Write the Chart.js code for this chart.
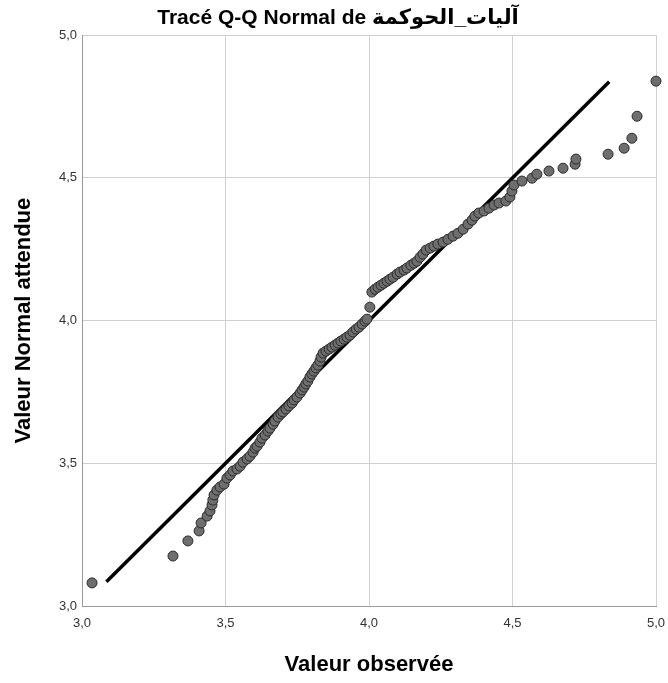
<!DOCTYPE html>
<html>
<head>
<meta charset="utf-8">
<script src="https://cdn.jsdelivr.net/npm/chart.js@4/dist/chart.umd.min.js"></script>
<style>
  body { margin: 0; background: #fff; }
</style>
</head>
<body>
<canvas id="grafica" width="668" height="683"></canvas>
<script>
const ctx = document.getElementById("grafica");

// valeurs observées (triées) et valeurs normales attendues
const observees = [3.035,3.317,3.369,3.408,3.415,3.436,3.446,3.453,3.456,3.460,
    3.470,3.481,3.495,3.505,3.516,3.526,3.540,3.551,3.561,3.575,
    3.585,3.596,3.603,3.610,3.620,3.627,3.638,3.648,3.655,3.666,
    3.672,3.683,3.693,3.700,3.711,3.721,3.732,3.739,3.749,3.760,
    3.767,3.774,3.780,3.787,3.794,3.801,3.808,3.815,3.822,3.829,
    3.833,3.840,3.850,3.861,3.871,3.882,3.892,3.902,3.913,3.923,
    3.934,3.944,3.955,3.965,3.976,3.986,3.993,4.003,4.010,4.021,
    4.031,4.042,4.052,4.063,4.073,4.084,4.098,4.108,4.122,4.132,
    4.146,4.157,4.167,4.178,4.188,4.199,4.213,4.226,4.240,4.258,
    4.275,4.293,4.310,4.328,4.345,4.359,4.369,4.383,4.401,4.418,
    4.436,4.453,4.477,4.491,4.498,4.505,4.533,4.568,4.585,4.627,
    4.676,4.718,4.721,4.833,4.889,4.916,4.934,5.000];

const attendues = [3.081,3.175,3.228,3.263,3.291,3.315,3.333,3.354,3.371,3.389,
    3.406,3.417,3.427,3.448,3.459,3.473,3.480,3.490,3.504,3.515,
    3.525,3.539,3.553,3.560,3.574,3.588,3.599,3.613,3.623,3.637,
    3.648,3.662,3.673,3.680,3.690,3.701,3.711,3.722,3.732,3.746,
    3.757,3.767,3.778,3.788,3.802,3.813,3.823,3.834,3.844,3.858,
    3.872,3.886,3.893,3.900,3.907,3.914,3.921,3.928,3.935,3.942,
    3.949,3.960,3.970,3.977,3.988,3.998,4.005,4.047,4.100,4.110,
    4.117,4.124,4.131,4.138,4.145,4.152,4.163,4.170,4.177,4.184,
    4.194,4.201,4.208,4.222,4.233,4.247,4.254,4.261,4.268,4.275,
    4.285,4.296,4.306,4.320,4.338,4.352,4.366,4.377,4.384,4.394,
    4.405,4.412,4.419,4.433,4.454,4.475,4.489,4.499,4.513,4.524,
    4.534,4.548,4.566,4.583,4.604,4.639,4.716,4.839];

// droite de référence y = x
const droiteDebut = 3.085;
const droiteFin = 4.837;

const graduations = [3.0, 3.5, 4.0, 4.5, 5.0];

const police = "'Liberation Sans', Arial, 'DejaVu Sans', sans-serif";
const formatVirgule = v => Number(v).toFixed(1).replace(".", ",");

const points = observees.map((x, i) => ({ x: x, y: attendues[i] }));

new Chart(ctx, {
    type: "scatter",
    data: {
        datasets: [
            {
                label: "Observé",
                data: points,
                backgroundColor: "#6e6e6e",
                borderColor: "#2b2b2b",
                borderWidth: 1,
                pointRadius: 5,
                clip: false
            },
            {
                type: "line",
                label: "Référence",
                data: [{ x: droiteDebut, y: droiteDebut }, { x: droiteFin, y: droiteFin }],
                borderColor: "#000",
                borderWidth: 3.5,
                pointRadius: 0,
                fill: false
            }
        ]
    },
    options: {
        responsive: false,
        animation: false,
        layout: { padding: { left: 20, right: 12, top: 0, bottom: 0 } },
        plugins: {
            legend: { display: false },
            tooltip: { enabled: false },
            title: {
                display: true,
                text: "Tracé Q-Q Normal de آليات_الحوكمة",
                color: "#000",
                font: { family: police, size: 21, weight: "bold" },
                padding: { top: 6, bottom: 4 }
            }
        },
        scales: {
            x: {
                type: "linear",
                min: 3,
                max: 5,
                afterBuildTicks: axis => { axis.ticks = graduations.map(v => ({ value: v })); },
                afterFit: axis => {
                    axis.height = 77;
                    // pas de marge supplémentaire pour les étiquettes des extrémités
                    axis.paddingLeft = 0;
                    axis.paddingRight = 0;
                },
                ticks: {
                    color: "#333",
                    padding: 10,
                    font: { family: police, size: 13 },
                    callback: formatVirgule
                },
                grid: { color: "#cfcfcf", drawTicks: false },
                border: { color: "#9a9a9a" },
                title: {
                    display: true,
                    text: "Valeur observée",
                    color: "#000",
                    font: { family: police, size: 22, weight: "bold" },
                    padding: { top: 0, bottom: 5 }
                }
            },
            y: {
                type: "linear",
                min: 3,
                max: 5,
                afterBuildTicks: axis => { axis.ticks = graduations.map(v => ({ value: v })); },
                afterFit: axis => {
                    axis.width = 62;
                    axis.paddingTop = 0;
                    axis.paddingBottom = 0;
                },
                ticks: {
                    color: "#333",
                    padding: 5,
                    font: { family: police, size: 13 },
                    callback: formatVirgule
                },
                grid: { color: "#cfcfcf", drawTicks: false },
                border: { color: "#9a9a9a" },
                title: {
                    display: true,
                    text: "Valeur Normal attendue",
                    color: "#000",
                    font: { family: police, size: 22, weight: "bold" },
                    padding: { top: -9, bottom: 0 }
                }
            }
        }
    }
});
</script>
</body>
</html>
